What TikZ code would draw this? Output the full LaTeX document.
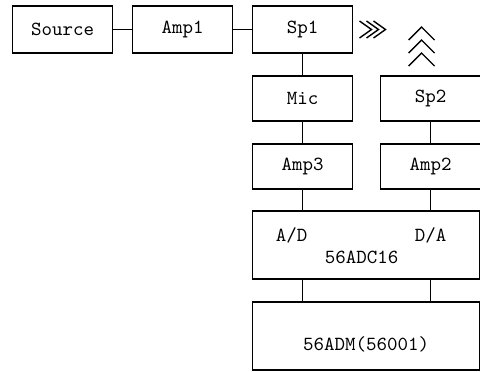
\documentclass[tikz,border=0pt]{standalone}
\usetikzlibrary{positioning}
\begin{document}
\begin{tikzpicture}[x=0.5pt,y=-0.5pt,
		box/.style={draw,line width=0.65pt,inner sep=0pt,outer sep=0pt,minimum width=50pt,minimum height=22.5pt,font=\fontsize{10}{12}\ttfamily},
		wide/.style={draw,line width=0.65pt,inner sep=0pt,outer sep=0pt,minimum width=113.5pt,minimum height=34pt},
		txt/.style={inner sep=0pt,font=\fontsize{10}{12}\ttfamily},
		wire/.style={line width=0.9pt},
		chev/.style={line width=0.7pt}]
		\useasboundingbox (0,0) rectangle (480,371);
		\node[box,minimum height=23.5pt]							(source)	at (62.5,29.5) {Source};
		\node[box,minimum height=23.5pt,node distance=10pt,right=of source]	(amp1)		{Amp1};
		\node[box,minimum height=23.5pt,node distance=10pt,right=of amp1]	(sp1)		{Sp1};
		\node[box,node distance=11.5pt,below=of sp1]					(mic)		{Mic};
		\node[box,node distance=14pt,right=of mic]						(sp2)		{Sp2};
		\node[box,node distance=11.5pt,below=of mic]					(amp3)		{Amp3};
		\node[box,node distance=11.5pt,below=of sp2]					(amp2)		{Amp2};
		\node[wide,below=11pt of amp3.south west,anchor=north west]		(adc)		{};
		\node[wide,below=11.5pt of adc.south west,anchor=north west]	(adm)		{};

		\node[txt] (ad)		at ([shift={(39,24)}]adc.north west)	{A/D};
		\node[txt] (da)		at ([shift={(178,24)}]adc.north west)	{D/A};
		\node[txt] (adcname)	at ([shift={(109,46)}]adc.north west)	{56ADC16};
		\node[txt] (admname)	at ([shift={(0,8)}]adm.center)			{56ADM(56001)};

		\draw[wire] (source) -- (amp1);
		\draw[wire] (amp1) -- (sp1);
		\draw[wire] (sp1) -- (mic);
		\draw[wire] (mic) -- (amp3);
		\draw[wire] (sp2) -- (amp2);
		\draw[wire] (amp3) -- (amp3 |- adc.north);
		\draw[wire] (amp2) -- (amp2 |- adc.north);
		\draw[wire] (adc.south -| amp3) -- (adm.north -| amp3);
		\draw[wire] (adc.south -| amp2) -- (adm.north -| amp2);

		% sound waves
		\foreach \d in {19,26,33}
			\draw[chev] ([shift={(\d-12,-8.5)}]sp1.east) -- ([shift={(\d,0)}]sp1.east) -- ([shift={(\d-12,8.5)}]sp1.east);
		\foreach \d in {49,36,23}
			\draw[chev] ([shift={(-22,-\d+13)}]sp2.north) -- ([shift={(-9,-\d)}]sp2.north) -- ([shift={(4,-\d+13)}]sp2.north);
	\end{tikzpicture}
\end{document}
